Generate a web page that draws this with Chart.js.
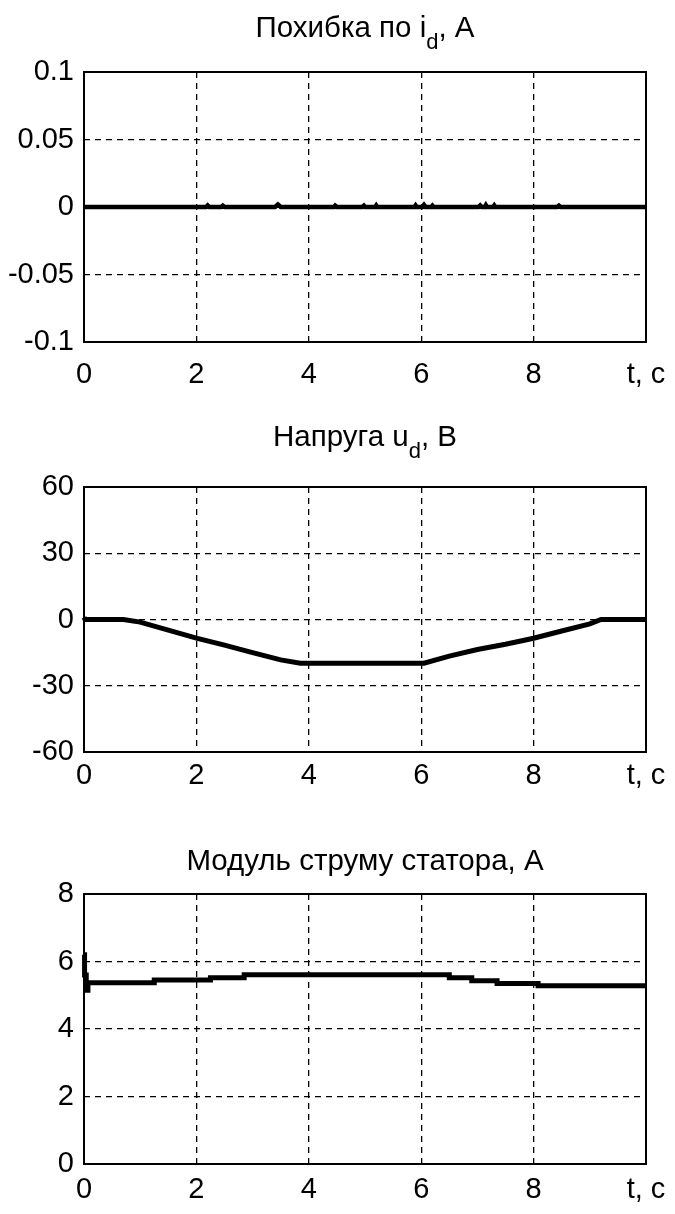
<!DOCTYPE html>
<html>
<head>
<meta charset="utf-8">
<script src="https://cdn.jsdelivr.net/npm/chart.js@4.4.1/dist/chart.umd.min.js"></script>
<style>
  html, body { margin: 0; padding: 0; background: #fff; }
  #wrap { position: relative; width: 675px; height: 1214px; overflow: hidden; }
  .panel { position: absolute; left: 0; }
</style>
</head>
<body>
<div id="wrap">
  <div class="panel" style="top:0"><canvas id="c1" width="675" height="405"></canvas></div>
  <div class="panel" style="top:405px"><canvas id="c2" width="675" height="410"></canvas></div>
  <div class="panel" style="top:815px"><canvas id="c3" width="675" height="399"></canvas></div>
</div>
<script>
// shared x axis (time, s)
const timeTicks = [0, 2, 4, 6, 8, 10];
const timeLabel = 't, c';

// Похибка по i_d (almost zero with small blips)
const errT = [0, 2.17, 2.2, 2.23, 2.44, 2.47, 2.5, 3.4, 3.45, 3.5, 4.45, 4.47, 4.5, 4.95, 4.98, 5.0, 5.18, 5.2, 5.22,
              5.88, 5.9, 5.92, 6.02, 6.05, 6.08, 6.18, 6.2, 6.22, 7.02, 7.05, 7.08, 7.13, 7.15, 7.17, 7.28, 7.3, 7.32,
              8.42, 8.45, 8.48, 10];
const errV = [0, 0, 0.0012, 0, 0, 0.001, 0, 0, 0.0018, 0, 0, 0.001, 0, 0, 0.001, 0, 0, 0.0012, 0,
              0, 0.0012, 0, 0, 0.0016, 0, 0, 0.001, 0, 0, 0.0012, 0, 0, 0.0014, 0, 0, 0.0012, 0,
              0, 0.001, 0, 0];
const errTicks = [-0.1, -0.05, 0, 0.05, 0.1];
const errTickLabels = ['-0.1', '-0.05', '0', '0.05', '0.1'];

// Напруга u_d, V
const udT = [0, 0.02, 0.7, 1.0, 1.5, 2.0, 2.5, 3.0, 3.5, 3.85, 6.05, 6.5, 7.0, 7.5, 8.0, 8.5, 9.0, 9.2, 10];
const udV = [1, 0, 0, -1.2, -4.8, -8.4, -11.6, -15, -18.3, -19.8, -19.8, -16.6, -13.6, -11.2, -8.5, -5.2, -2, 0, 0];
const udTicks = [-60, -30, 0, 30, 60];
const udTickLabels = ['-60', '-30', '0', '30', '60'];

// Модуль струму статора, A (stepped)
const isT = [0, 0.01, 0.04, 0.07, 1.25, 2.25, 2.85, 6.5, 6.9, 7.35, 8.08, 10];
const isV = [6.2, 5.6, 5.15, 5.37, 5.45, 5.52, 5.61, 5.52, 5.43, 5.35, 5.28, 5.28];
const isTicks = [0, 2, 4, 6, 8];
const isTickLabels = ['0', '2', '4', '6', '8'];

const FONT = '"Liberation Sans", Arial, sans-serif';
const TICK_SIZE = 29;
const TITLE_SIZE = 29.5;

// title with subscript, drawn above the plot area
const subTitlePlugin = {
    id: 'subTitle',
    afterDraw(chart, args, opts) {
        const ctx = chart.ctx;
        const size = opts.size;
        const subSize = Math.round(size * 0.75);
        ctx.save();
        ctx.fillStyle = '#000';
        ctx.textBaseline = 'alphabetic';
        ctx.textAlign = 'left';
        let total = 0;
        const widths = opts.parts.map(p => {
            ctx.font = (p.sub ? subSize : size) + 'px ' + FONT;
            const w = ctx.measureText(p.text).width;
            total += w;
            return w;
        });
        const area = chart.chartArea;
        let x = (area.left + area.right) / 2 - total / 2;
        opts.parts.forEach((p, i) => {
            ctx.font = (p.sub ? subSize : size) + 'px ' + FONT;
            ctx.fillText(p.text, x, opts.y + (p.sub ? Math.round(size * 0.42) : 0));
            x += widths[i];
        });
        ctx.restore();
    }
};

// MATLAB-style box around the axes
const framePlugin = {
    id: 'frame',
    afterDatasetsDraw(chart) {
        const a = chart.chartArea;
        const ctx = chart.ctx;
        ctx.save();
        ctx.strokeStyle = '#000';
        ctx.lineWidth = 2;
        ctx.strokeRect(a.left, a.top, a.right - a.left, a.bottom - a.top);
        ctx.restore();
    }
};

function makeChart(id, xs, ys, yTicks, yLabels, lineWidth, stepped, title, titleY, pad, xPad) {
    const ctx = document.getElementById(id).getContext('2d');
    return new Chart(ctx, {
        type: 'line',
        data: {
            datasets: [{
                data: xs.map((t, i) => ({ x: t, y: ys[i] })),
                borderColor: '#000',
                borderWidth: lineWidth,
                pointRadius: 0,
                fill: false,
                tension: 0,
                stepped: stepped,
                clip: 4
            }]
        },
        options: {
            responsive: false,
            animation: false,
            devicePixelRatio: 1,
            layout: { padding: pad },
            plugins: {
                legend: { display: false },
                tooltip: { enabled: false },
                subTitle: { parts: title, y: titleY, size: TITLE_SIZE }
            },
            scales: {
                x: {
                    type: 'linear',
                    min: 0,
                    max: 10,
                    afterBuildTicks: s => { s.ticks = timeTicks.map(v => ({ value: v })); },
                    afterFit: s => {
                        s.height = 48;
                        // keep the plot box fixed, labels may overhang
                        s.paddingLeft = 0;
                        s.paddingRight = 0;
                    },
                    border: { display: false, dash: [6, 5] },
                    grid: { color: '#000', lineWidth: 1.3, drawTicks: false },
                    ticks: {
                        color: '#000',
                        padding: xPad,
                        maxRotation: 0,
                        autoSkip: false,
                        font: { family: FONT, size: TICK_SIZE },
                        callback: v => v === 10 ? timeLabel : String(v)
                    }
                },
                y: {
                    type: 'linear',
                    min: yTicks[0],
                    max: yTicks[yTicks.length - 1],
                    afterBuildTicks: s => { s.ticks = yTicks.map(v => ({ value: v })); },
                    afterFit: s => {
                        s.width = 84;
                        s.paddingTop = 0;
                        s.paddingBottom = 0;
                    },
                    border: { display: false, dash: [6, 5] },
                    grid: { color: '#000', lineWidth: 1.3, drawTicks: false },
                    ticks: {
                        color: '#000',
                        padding: 10,
                        autoSkip: false,
                        font: { family: FONT, size: TICK_SIZE },
                        callback: (v, i) => yLabels[i]
                    }
                }
            }
        },
        plugins: [subTitlePlugin, framePlugin]
    });
}

makeChart('c1', errT, errV, errTicks, errTickLabels, 4.5, false,
    [{ text: 'Похибка по i' }, { text: 'd', sub: true }, { text: ', A' }], 37,
    { left: 0, right: 29, top: 72, bottom: 15 }, 16);

makeChart('c2', udT, udV, udTicks, udTickLabels, 5, false,
    [{ text: 'Напруга u' }, { text: 'd', sub: true }, { text: ', B' }], 41,
    { left: 0, right: 29, top: 82, bottom: 15 }, 7);

makeChart('c3', isT, isV, isTicks, isTickLabels, 5, 'before',
    [{ text: 'Модуль струму статора, А' }], 55,
    { left: 0, right: 29, top: 79, bottom: 2 }, 9);
</script>
</body>
</html>
